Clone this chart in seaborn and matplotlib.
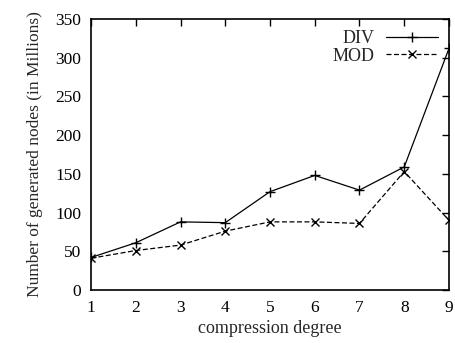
import pandas as pd
import matplotlib
matplotlib.use("Agg")
import matplotlib.pyplot as plt
import seaborn as sns

# Data
degree = [1, 2, 3, 4, 5, 6, 7, 8, 9]
div_nodes = [42, 61, 88, 87, 127, 148, 129, 159, 312]
mod_nodes = [41, 51, 58, 76, 88, 88, 86, 153, 90]

sns.set_style("white")
plt.rcParams["font.family"] = ["Liberation Serif", "DejaVu Serif"]

fig = plt.figure(figsize=(4.56, 3.43), dpi=100)
ax = fig.add_axes([0.1996, 0.1545, 0.785, 0.79])

# DIV: solid line with plus markers
sns.lineplot(x=degree, y=div_nodes, color="black", linewidth=0.9,
             marker="+", markersize=7, markeredgewidth=1.0,
             markeredgecolor="black", label="DIV", ax=ax)
# MOD: dashed line with cross markers
sns.lineplot(x=degree, y=mod_nodes, color="black", linewidth=0.9,
             linestyle=(0, (4, 2)), marker="x", markersize=6,
             markeredgewidth=1.0, markeredgecolor="black", label="MOD", ax=ax)

ax.set_xlim(1, 9)
ax.set_ylim(0, 350)
ax.set_xticks(degree)
ax.set_yticks(range(0, 351, 50))
ax.set_xlabel("compression degree", fontsize=13, labelpad=3)
ax.set_ylabel("Number of generated nodes (in Millions)", fontsize=12.5, labelpad=9)
ax.tick_params(direction="in", length=5, width=1, top=True, right=True,
               labelsize=12.5, colors="black", pad=7)
for s in ax.spines.values():
    s.set_color("black")
    s.set_linewidth(1.2)

ax.legend(loc="upper right", frameon=False, markerfirst=False,
          fontsize=13, handlelength=2.9, borderaxespad=0.3,
          labelspacing=0.05, borderpad=0.3, handletextpad=0.6)

fig.savefig("out.png", dpi=100)
